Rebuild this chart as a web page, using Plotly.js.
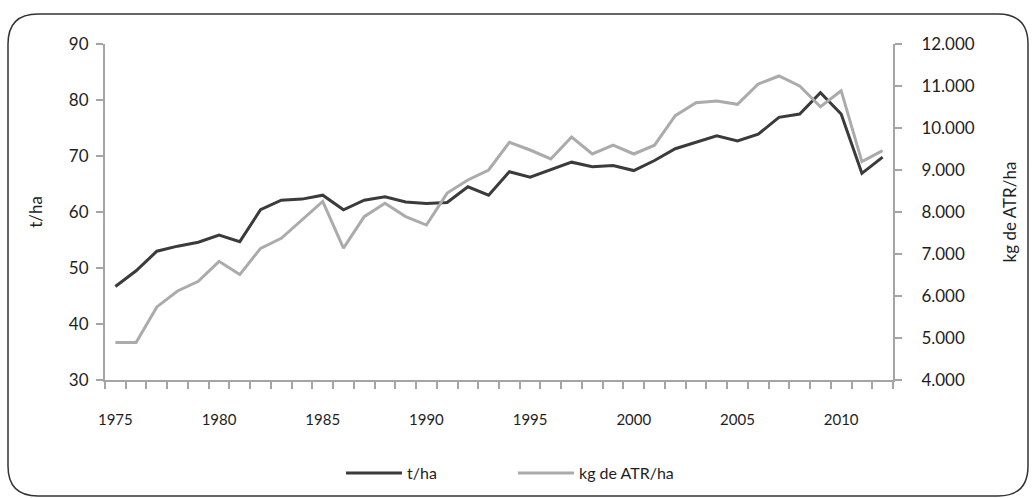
<!DOCTYPE html>
<html><head><meta charset="utf-8">
<script src="https://cdn.plot.ly/plotly-3.0.1.min.js"></script>
<style>html,body{margin:0;padding:0;background:#fff;} #chart{width:1036px;height:498px;}</style>
</head><body><div id="chart"></div>
<script>
const years = [1975,1976,1977,1978,1979,1980,1981,1982,1983,1984,1985,1986,1987,1988,1989,1990,1991,1992,1993,1994,1995,1996,1997,1998,1999,2000,2001,2002,2003,2004,2005,2006,2007,2008,2009,2010,2011,2012];
const tHa = [46.7,49.5,53.0,53.9,54.6,55.9,54.7,60.4,62.1,62.3,
             63.0,60.4,62.1,62.7,61.8,61.5,61.7,64.5,63.0,67.2,
             66.2,67.5,68.9,68.1,68.3,67.4,69.2,71.3,72.5,73.6,
             72.7,73.9,76.9,77.5,81.3,77.5,66.9,69.8];
const kgAtrHa = [4890,4890,5740,6120,6350,6825,6510,7135,7373,7800,
                 8250,7140,7890,8207,7890,7690,8450,8762,9000,9660,
                 9476,9262,9785,9381,9595,9381,9590,10293,10600,10640,
                 10564,11048,11238,11000,10507,10888,9198,9460];
const xLabelYears = [1975,1980,1985,1990,1995,2000,2005,2010];
const leftTicks = [30,40,50,60,70,80,90];
const rightTicks = [4000,5000,6000,7000,8000,9000,10000,11000,12000];
const rightTickText = ['4.000','5.000','6.000','7.000','8.000','9.000','10.000','11.000','12.000'];
const seriesNames = ['t/ha','kg de ATR/ha'];
const leftTitle = 't/ha';
const rightTitle = 'kg de ATR/ha';

const W = 1036, H = 498;
const M = {l:105, r:143, t:44, b:118};
const axisGray = '#a5a5a5';
const txt = '#1e1e1e';
const FONT = 'Lato, "Open Sans", sans-serif';

const boundaries = years.map(y => y - 0.5).concat([years[years.length-1] + 0.5]);
const xRange = [boundaries[0], boundaries[boundaries.length-1]];

const traces = [
  {x: years, y: tHa, name: seriesNames[0], type: 'scatter', mode: 'lines',
   xaxis: 'x', yaxis: 'y', line: {color: '#3b3b3b', width: 3}},
  {x: years, y: kgAtrHa, name: seriesNames[1], type: 'scatter', mode: 'lines',
   xaxis: 'x', yaxis: 'y2', line: {color: '#ababab', width: 3}}
];

// rounded frame in paper coords
const pw = W - M.l - M.r, ph = H - M.t - M.b;
const px = v => (v - M.l) / pw;
const py = v => (H - M.b - v) / ph;
const fx0 = 8, fx1 = 1028, fy0 = 14, fy1 = 496, rr = 30;
const frame = `M ${px(fx0+rr)} ${py(fy0)} L ${px(fx1-rr)} ${py(fy0)} Q ${px(fx1)} ${py(fy0)} ${px(fx1)} ${py(fy0+rr)} L ${px(fx1)} ${py(fy1-rr)} Q ${px(fx1)} ${py(fy1)} ${px(fx1-rr)} ${py(fy1)} L ${px(fx0+rr)} ${py(fy1)} Q ${px(fx0)} ${py(fy1)} ${px(fx0)} ${py(fy1-rr)} L ${px(fx0)} ${py(fy0+rr)} Q ${px(fx0)} ${py(fy0)} ${px(fx0+rr)} ${py(fy0)} Z`;

const common = {showgrid: false, zeroline: false, fixedrange: true, automargin: false};

const layout = {
  width: W, height: H,
  margin: M,
  paper_bgcolor: '#fff', plot_bgcolor: '#fff',
  font: {family: FONT, color: txt},
  showlegend: true,
  legend: {orientation: 'h', xref: 'container', yref: 'container',
           x: 341 / W, xanchor: 'left', y: 1 - 473 / H, yanchor: 'middle',
           font: {size: 16, color: txt}, itemwidth: 56, entrywidth: 101, entrywidthmode: 'pixels',
           bgcolor: 'rgba(0,0,0,0)'},
  xaxis: Object.assign({}, common, {
    range: xRange, showline: true, linecolor: axisGray, linewidth: 2,
    tickmode: 'array', tickvals: xLabelYears, ticktext: xLabelYears.map(String),
    ticks: '', tickfont: {size: 15, color: txt}, ticklabelstandoff: 25,
    minor: {tickmode: 'array', tickvals: boundaries, ticks: 'outside', ticklen: 7,
            tickwidth: 2, tickcolor: axisGray, showgrid: false}
  }),
  xaxis3: Object.assign({}, common, {
    overlaying: 'x', anchor: 'y', range: xRange, showline: false,
    tickmode: 'array', tickvals: boundaries, ticks: 'inside', ticklen: 7,
    tickwidth: 2, tickcolor: axisGray, showticklabels: false
  }),
  yaxis: Object.assign({}, common, {
    range: [30, 90], showline: true, linecolor: axisGray, linewidth: 2,
    tickmode: 'array', tickvals: leftTicks, ticktext: leftTicks.map(String),
    ticks: 'outside', ticklen: 7, tickwidth: 2, tickcolor: axisGray,
    tickfont: {size: 17, color: txt}, ticklabelstandoff: 4,
    title: {text: leftTitle, font: {size: 17, color: txt}, standoff: 22}
  }),
  yaxis3: Object.assign({}, common, {
    overlaying: 'y', side: 'left', range: [30, 90], showline: false,
    tickmode: 'array', tickvals: leftTicks, ticks: 'inside', ticklen: 7,
    tickwidth: 2, tickcolor: axisGray, showticklabels: false
  }),
  yaxis2: Object.assign({}, common, {
    overlaying: 'y', side: 'right', range: [4000, 12000], showline: true,
    linecolor: axisGray, linewidth: 2,
    tickmode: 'array', tickvals: rightTicks, ticktext: rightTickText,
    ticks: 'outside', ticklen: 7, tickwidth: 2, tickcolor: axisGray,
    tickfont: {size: 17, color: txt}, ticklabelstandoff: 16,
    title: {text: rightTitle, font: {size: 17, color: txt}, standoff: 30}
  }),
  yaxis4: Object.assign({}, common, {
    overlaying: 'y', side: 'right', range: [4000, 12000], showline: false,
    tickmode: 'array', tickvals: rightTicks, ticks: 'inside', ticklen: 7,
    tickwidth: 2, tickcolor: axisGray, showticklabels: false
  }),
  shapes: [{type: 'path', xref: 'paper', yref: 'paper', path: frame,
            line: {color: '#333', width: 1.5}, fillcolor: 'rgba(0,0,0,0)', layer: 'below'}]
};

Plotly.newPlot('chart', traces, layout, {displayModeBar: false, staticPlot: true});
</script>
</body></html>
